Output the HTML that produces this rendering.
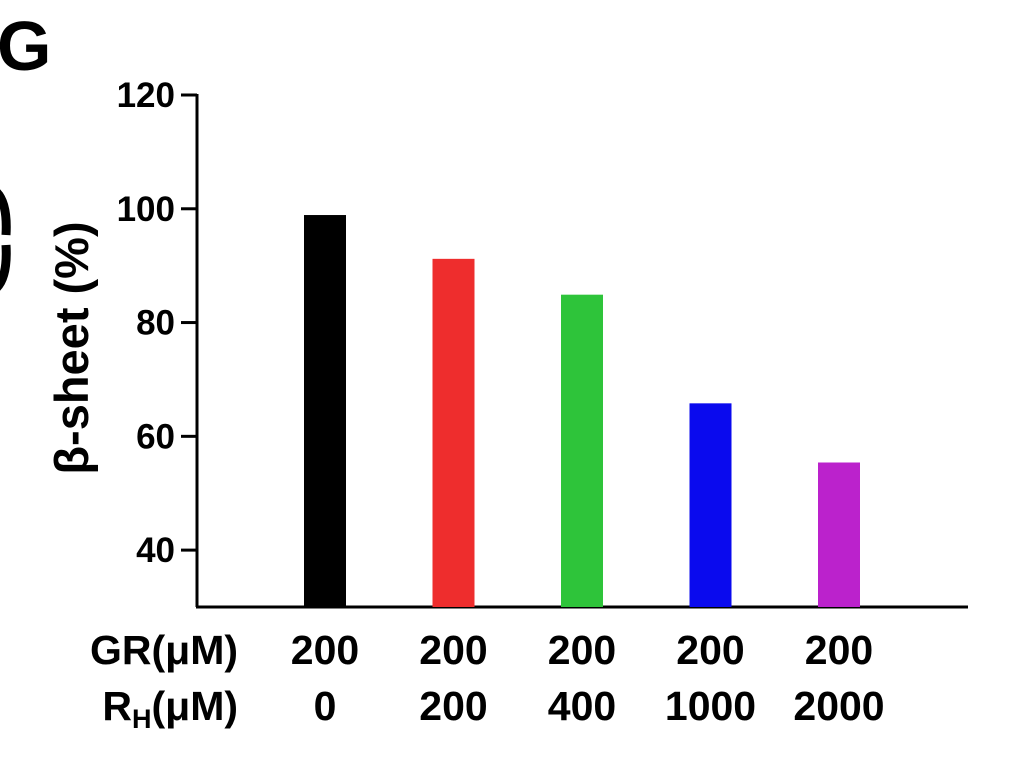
<!DOCTYPE html>
<html><head><meta charset="utf-8"><style>
body{margin:0;background:#fff;}
svg text{font-family:"Liberation Sans",Arial,sans-serif;font-weight:bold;fill:#000;}
</style></head><body>
<svg id="chart" width="1036" height="766" viewBox="0 0 1036 766" xmlns="http://www.w3.org/2000/svg">
<text x="-3" y="70" font-size="70">G</text>
<path d="M-6 190 Q8 200 6 235 M6 245 Q8 280 -6 290" stroke="#000" stroke-width="9" fill="none"/>
<text transform="translate(88,348) rotate(-90)" text-anchor="middle" font-size="47">β-sheet (%)</text>
<g id="axes"></g>
<g id="bars"></g>
<g id="xlabels"></g>
</svg>
<script>
const categoriesGR = ["200","200","200","200","200"];
const categoriesRH = ["0","200","400","1000","2000"];
const values = [98.9, 91.2, 84.9, 65.8, 55.4];
const colors = ["#000000","#ee2d2d","#2ec43a","#0a0aee","#bb22cc"];
const yTicks = [40,60,80,100,120];
const NS="http://www.w3.org/2000/svg";
const yMin=30,yMax=120;
function y(v){return 607-(v-yMin)*(607-95)/(yMax-yMin);}
function x(i){return 325+i*128.5;}
function mk(t,a,p){const e=document.createElementNS(NS,t);for(const k in a)e.setAttribute(k,a[k]);p.appendChild(e);return e;}
const axes=document.getElementById('axes');
let l=mk('line',{x1:197,y1:94,x2:197,y2:607,stroke:'#000','stroke-width':3},axes);


l=mk('line',{x1:196,y1:607,x2:968,y2:607,stroke:'#000','stroke-width':3},axes);


yTicks.forEach(v=>{
 const t=mk('line',{x1:181,y1:y(v),x2:197,y2:y(v),stroke:'#000','stroke-width':3},axes);
 
 
 const tx=mk('text',{x:175,y:y(v)+12,'text-anchor':'end','font-size':35},axes);
 tx.textContent=v;
 
 
});
const bars=document.getElementById('bars');
values.forEach((v,i)=>{
 const r=mk('rect',{x:x(i)-21,y:y(v),width:42,height:607-y(v),fill:colors[i]},bars);
 
 
});
const xl=document.getElementById('xlabels');
let h=mk('text',{x:238,y:664,'text-anchor':'end','font-size':41},xl);
h.textContent='GR(μM)';


h=mk('text',{x:238,y:720,'text-anchor':'end','font-size':41},xl);
h.innerHTML='R<tspan font-size="27" dy="8">H</tspan><tspan dy="-8">(μM)</tspan>';


categoriesGR.forEach((c,i)=>{
 const t=mk('text',{x:x(i),y:664,'text-anchor':'middle','font-size':41},xl);
 t.textContent=c;
 
 
 const t2=mk('text',{x:x(i),y:720,'text-anchor':'middle','font-size':41},xl);
 t2.textContent=categoriesRH[i];
 
 
});
</script>
</body></html>
